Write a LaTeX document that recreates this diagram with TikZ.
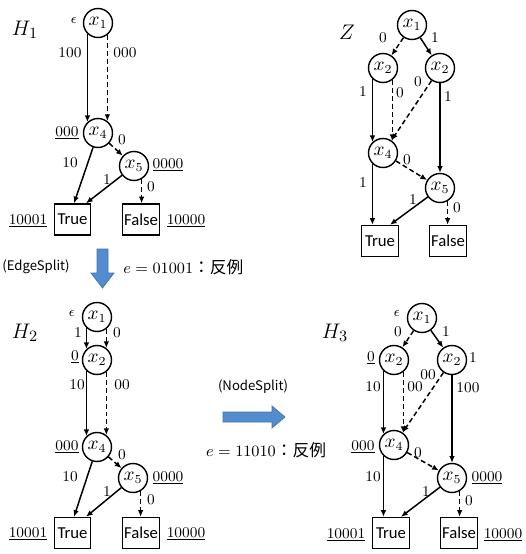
\documentclass[tikz,border=0pt]{standalone}
\usepackage{fontspec}
\newfontfamily\jp{Noto Sans CJK JP}
\newfontfamily\calib{Carlito}
\usetikzlibrary{arrows.meta,calc}
\definecolor{arrowblue}{RGB}{84,141,207}
\definecolor{arrowedge}{RGB}{70,115,165}
\begin{document}
\begin{tikzpicture}[x=0.02cm,y=-0.02cm,
 vn/.style={circle,draw,line width=0.8pt,minimum size=0.58cm,inner sep=0pt,font=\fontsize{10.5}{12}\selectfont},
 tm/.style={draw,line width=0.8pt,minimum width=0.73cm,minimum height=0.62cm,inner sep=1pt,font=\calib\fontsize{9.5}{11}\selectfont},
 lb/.style={inner sep=0pt,font=\fontsize{8.5}{10}\selectfont},
 ttl/.style={inner sep=0pt,font=\fontsize{12.5}{14}\selectfont},
 so/.style={draw,line width=0.85pt,-{Latex[length=3.8pt,width=3.2pt]}},
 da/.style={so,dash pattern=on 2.8pt off 1.7pt},
 jt/.style={inner sep=0pt,font=\jp\fontsize{7.5}{9}\selectfont},
 et/.style={inner sep=0pt,font=\fontsize{9.5}{11}\selectfont},
 barrow/.style={fill=arrowblue,draw=arrowedge,line width=0.4pt}]
\useasboundingbox (0,0) rectangle (525,554);

% ---------- H1 ----------
\node[ttl] (a0) at (25,30) {$H_1$};
\node[vn] (a1) at (98,23) {$x_1$};
\node[vn] (a4) at (98,133) {$x_4$};
\node[vn] (a5) at (134,166) {$x_5$};
\node[tm] (aT) at (72.5,219.5) {True};
\node[tm] (aF) at (141,219.5) {False};
\draw[so] (a1.226) -- (a4.134);
\draw[da] (a1.308) -- (a4.52);
\draw[so] (a4) -- ([xshift=0.03cm]aT.north);
\draw[da] (a4) -- (a5);
\draw[so] (a5) -- ([xshift=0.27cm]aT.north);
\draw[da] (a5.-60) -- (a5.-60 |- aF.north);
\node[lb] (ae) at (74,20) {$\epsilon$};
\node[lb] (al1) at (70,53) {100};
\node[lb] (al2) at (125,53) {000};
\node[lb] (al3) at (67,133) {\underline{000}};
\node[lb] (al4) at (122,140) {0};
\node[lb] (al5) at (168,165) {\underline{0000}};
\node[lb] (al6) at (70,163) {10};
\node[lb] (al7) at (107,180) {1};
\node[lb] (al8) at (151,187) {0};
\node[lb] (al9) at (28,221) {\underline{10001}};
\node[lb] (al10) at (186,221) {\underline{10000}};

% ---------- Z ----------
\node[ttl] (z0) at (347,32) {$Z$};
\node[vn] (z1) at (412,25) {$x_1$};
\node[vn] (z2a) at (383,68) {$x_2$};
\node[vn] (z2b) at (440,68) {$x_2$};
\node[vn] (z4) at (383,153) {$x_4$};
\node[vn] (z5) at (440,188) {$x_5$};
\node[tm] (zT) at (380,241) {True};
\node[tm] (zF) at (448,241) {False};
\draw[da] (z1) -- (z2a);
\draw[so] (z1) -- (z2b);
\draw[so] (z2a.226) -- (z4.134);
\draw[da] (z2a.308) -- (z4.52);
\draw[da] (z2b) -- (z4);
\draw[so] (z2b) -- (z5);
\draw[da] (z4) -- (z5);
\draw[so] (z4.226) -- (z4.226 |- zT.north);
\draw[so] (z5) -- ([xshift=0.2cm]zT.north);
\draw[da] (z5.-60) -- (z5.-60 |- zF.north);
\node[lb] (zl1) at (383,38) {0};
\node[lb] (zl2) at (435,38) {1};
\node[lb] (zl3) at (363,92) {1};
\node[lb] (zl4) at (400,93) {0};
\node[lb] (zl5) at (418,82) {0};
\node[lb] (zl6) at (448,97) {1};
\node[lb] (zl7) at (407,160) {0};
\node[lb] (zl8) at (363,183) {1};
\node[lb] (zl9) at (413,200) {1};
\node[lb] (zl10) at (457,208) {0};

% ---------- middle ----------
\node[jt] (es) at (36,267) {(EdgeSplit)};
\draw[barrow] (97,249) -- (108,249) -- (108,273) -- (114,273) -- (102.5,288) -- (91,273) -- (97,273) -- cycle;
\node[et,anchor=west] (e1) at (123,267) {$e=01001${\jp：反例}};
\node[jt] (ns) at (253,387) {(NodeSplit)};
\draw[barrow] (223,412) -- (272,412) -- (272,406) -- (285,417) -- (272,428) -- (272,422) -- (223,422) -- cycle;
\node[et] (e2) at (266,450) {$e=11010${\jp：反例}};

% ---------- H2 ----------
\node[ttl] (b0) at (25,333) {$H_2$};
\node[vn] (b1) at (97,317) {$x_1$};
\node[vn] (b2) at (97,360) {$x_2$};
\node[vn] (b4) at (97,447) {$x_4$};
\node[vn] (b5) at (133,478) {$x_5$};
\node[tm] (bT) at (72.5,533) {True};
\node[tm] (bF) at (141,533) {False};
\draw[so] (b1.226) -- (b2.134);
\draw[da] (b1.308) -- (b2.52);
\draw[so] (b2.226) -- (b4.134);
\draw[da] (b2.308) -- (b4.52);
\draw[so] (b4) -- ([xshift=0.03cm]bT.north);
\draw[da] (b4) -- (b5);
\draw[so] (b5) -- ([xshift=0.27cm]bT.north);
\draw[da] (b5.-60) -- (b5.-60 |- bF.north);
\node[lb] (be) at (72,313) {$\epsilon$};
\node[lb] (bl1) at (78,333) {1};
\node[lb] (bl2) at (117,333) {0};
\node[lb] (bl3) at (75,357) {\underline{0}};
\node[lb] (bl4) at (77,385) {10};
\node[lb] (bl5) at (122,385) {00};
\node[lb] (bl6) at (67,447) {\underline{000}};
\node[lb] (bl7) at (122,455) {0};
\node[lb] (bl8) at (168,478) {\underline{0000}};
\node[lb] (bl9) at (70,477) {10};
\node[lb] (bl10) at (107,492) {1};
\node[lb] (bl11) at (151,500) {0};
\node[lb] (bl12) at (28,534) {\underline{10001}};
\node[lb] (bl13) at (186,534) {\underline{10000}};

% ---------- H3 ----------
\node[ttl] (c0) at (335,333) {$H_3$};
\node[vn] (c1) at (422,318) {$x_1$};
\node[vn] (c2a) at (394,360) {$x_2$};
\node[vn] (c2b) at (452,360) {$x_2$};
\node[vn] (c4) at (394,445) {$x_4$};
\node[vn] (c5) at (452,478) {$x_5$};
\node[tm] (cT) at (391,533) {True};
\node[tm] (cF) at (459,533) {False};
\draw[da] (c1) -- (c2a);
\draw[so] (c1) -- (c2b);
\draw[so] (c2a.226) -- (c4.134);
\draw[da] (c2a.308) -- (c4.52);
\draw[da] (c2b) -- (c4);
\draw[so] (c2b) -- (c5);
\draw[da] (c4) -- (c5);
\draw[so] (c4.226) -- (c4.226 |- cT.north);
\draw[so] (c5) -- ([xshift=0.2cm]cT.north);
\draw[da] (c5.-60) -- (c5.-60 |- cF.north);
\node[lb] (ce) at (397,313) {$\epsilon$};
\node[lb] (cl1) at (398,332) {0};
\node[lb] (cl2) at (446,332) {1};
\node[lb] (cl3) at (371,358) {\underline{0}};
\node[lb] (cl4) at (473,358) {1};
\node[lb] (cl5) at (373,387) {10};
\node[lb] (cl6) at (415,387) {00};
\node[lb] (cl7) at (428,375) {00};
\node[lb] (cl8) at (468,388) {100};
\node[lb] (cl9) at (363,447) {\underline{000}};
\node[lb] (cl10) at (418,453) {0};
\node[lb] (cl11) at (487,478) {\underline{0000}};
\node[lb] (cl12) at (373,477) {10};
\node[lb] (cl13) at (426,492) {1};
\node[lb] (cl14) at (469,501) {0};
\node[lb] (cl15) at (346,535) {\underline{10001}};
\node[lb] (cl16) at (503,535) {\underline{10000}};
\end{tikzpicture}
\end{document}
